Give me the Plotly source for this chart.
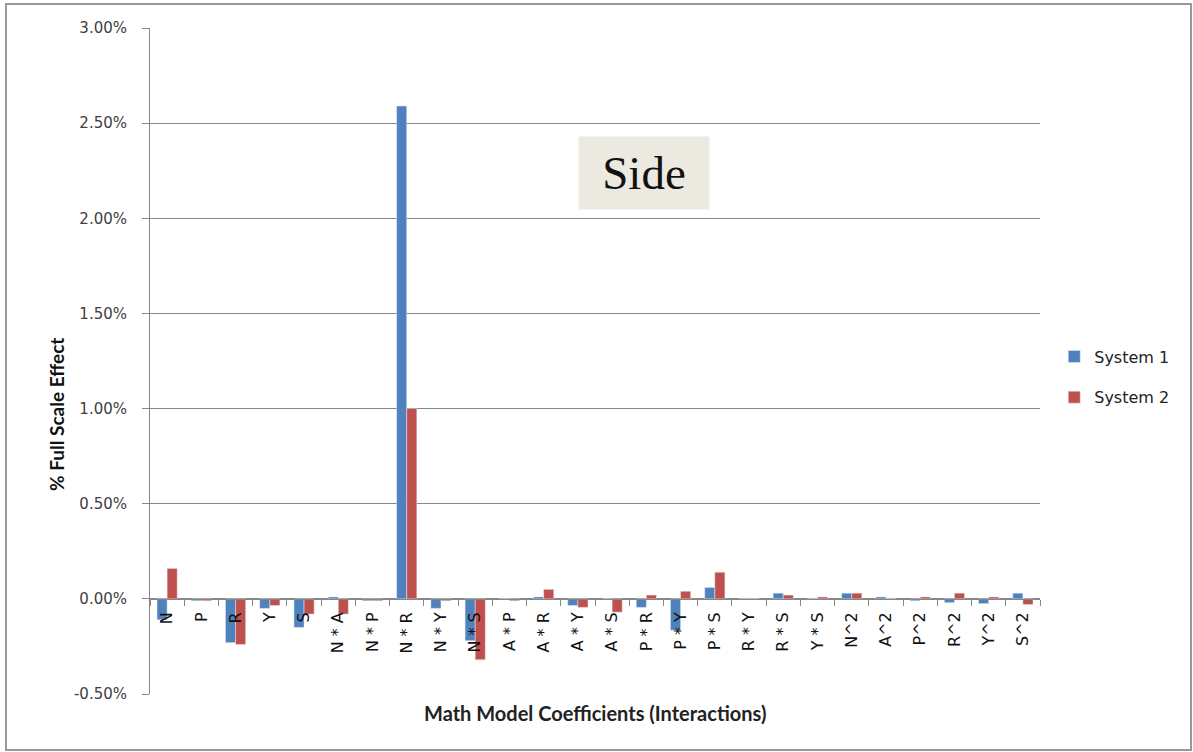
import plotly.graph_objects as go

categories = ["N", "P", "R", "Y", "S", "N * A", "N * P", "N * R", "N * Y", "N * S",
              "A * P", "A * R", "A * Y", "A * S", "P * R", "P * Y", "P * S", "R * Y",
              "R * S", "Y * S", "N^2", "A^2", "P^2", "R^2", "Y^2", "S^2"]
system1 = [-0.11, -0.01, -0.23, -0.05, -0.15, 0.01, -0.01, 2.59, -0.05, -0.22,
           0.0, 0.01, -0.035, 0.0, -0.045, -0.165, 0.06, 0.0,
           0.03, 0.0, 0.03, 0.01, -0.01, -0.02, -0.025, 0.03]
system2 = [0.16, -0.01, -0.24, -0.035, -0.08, -0.08, -0.01, 1.00, -0.01, -0.32,
           -0.01, 0.05, -0.045, -0.07, 0.02, 0.04, 0.14, 0.0,
           0.02, 0.01, 0.03, 0.0, 0.01, 0.03, 0.01, -0.03]
y_ticks = [-0.5, 0.0, 0.5, 1.0, 1.5, 2.0, 2.5, 3.0]

fig = go.Figure()
fig.add_trace(go.Bar(x=categories, y=system1, name="System 1", marker_color="#4F81BD",
                     legendgroup="a"))
fig.add_trace(go.Bar(x=categories, y=system2, name="System 2", marker_color="#C0504D",
                     legendgroup="b"))

grid = "#878787"
fig.update_layout(
    width=1193, height=752,
    margin=dict(l=150, r=153, t=28, b=58),
    paper_bgcolor="white", plot_bgcolor="white",
    barmode="group", bargap=0.41, bargroupgap=0,
    font=dict(family="DejaVu Sans", size=12, color="#222"),
    showlegend=True,
    legend=dict(x=1.016, y=0.476, xanchor="left", yanchor="middle",
                font=dict(family="DejaVu Sans", size=16, color="#222"),
                tracegroupgap=17, bgcolor="rgba(0,0,0,0)"),
    xaxis=dict(anchor="free", position=0.5 / 3.5, tickangle=-90,
               showline=True, linecolor=grid, linewidth=1,
               ticks="outside", tickson="boundaries", ticklen=6, tickcolor=grid,
               ticklabelstandoff=6,
               tickfont=dict(family="DejaVu Sans", size=16, color="#111"),
               showgrid=False),
    yaxis=dict(range=[-0.5, 3.0], tickvals=y_ticks,
               ticktext=[f"{v:.2f}%" for v in y_ticks],
               showgrid=True, gridcolor=grid, gridwidth=1,
               showline=True, linecolor=grid, linewidth=1,
               ticks="outside", ticklen=7, tickcolor=grid,
               ticklabelstandoff=12,
               tickfont=dict(family="DejaVu Sans", size=15, color="#404040"),
               zeroline=False),
    shapes=[dict(type="rect", xref="paper", yref="paper",
                 x0=(6 - 150) / 890, x1=(1191 - 150) / 890,
                 y0=(694 - 750) / 666, y1=(694 - 4) / 666,
                 line=dict(color="#999", width=2), fillcolor="rgba(0,0,0,0)")],
    annotations=[
        dict(text="Side", xref="paper", yref="paper",
             x=(644 - 150) / 890, y=(694 - 173) / 666, showarrow=False,
             xanchor="center", yanchor="middle",
             font=dict(family="Liberation Serif", size=47, color="#111"),
             bgcolor="#EBE9E0", width=118, height=60, borderpad=6),
        dict(text="<b>% Full Scale Effect</b>", xref="paper", yref="paper",
             x=(56 - 150) / 890, y=(694 - 415) / 666, showarrow=False, textangle=-90,
             xanchor="center", yanchor="middle",
             font=dict(family="Lato", size=19, color="#111")),
        dict(text="<b>Math Model Coefficients (Interactions)</b>", xref="paper", yref="paper",
             x=(595 - 150) / 890, y=(694 - 713) / 666, showarrow=False,
             xanchor="center", yanchor="middle",
             font=dict(family="Lato", size=20, color="#222")),
    ],
)

fig.write_html("out.html", config={"displayModeBar": False},
               post_script="document.body.style.margin='0';")
